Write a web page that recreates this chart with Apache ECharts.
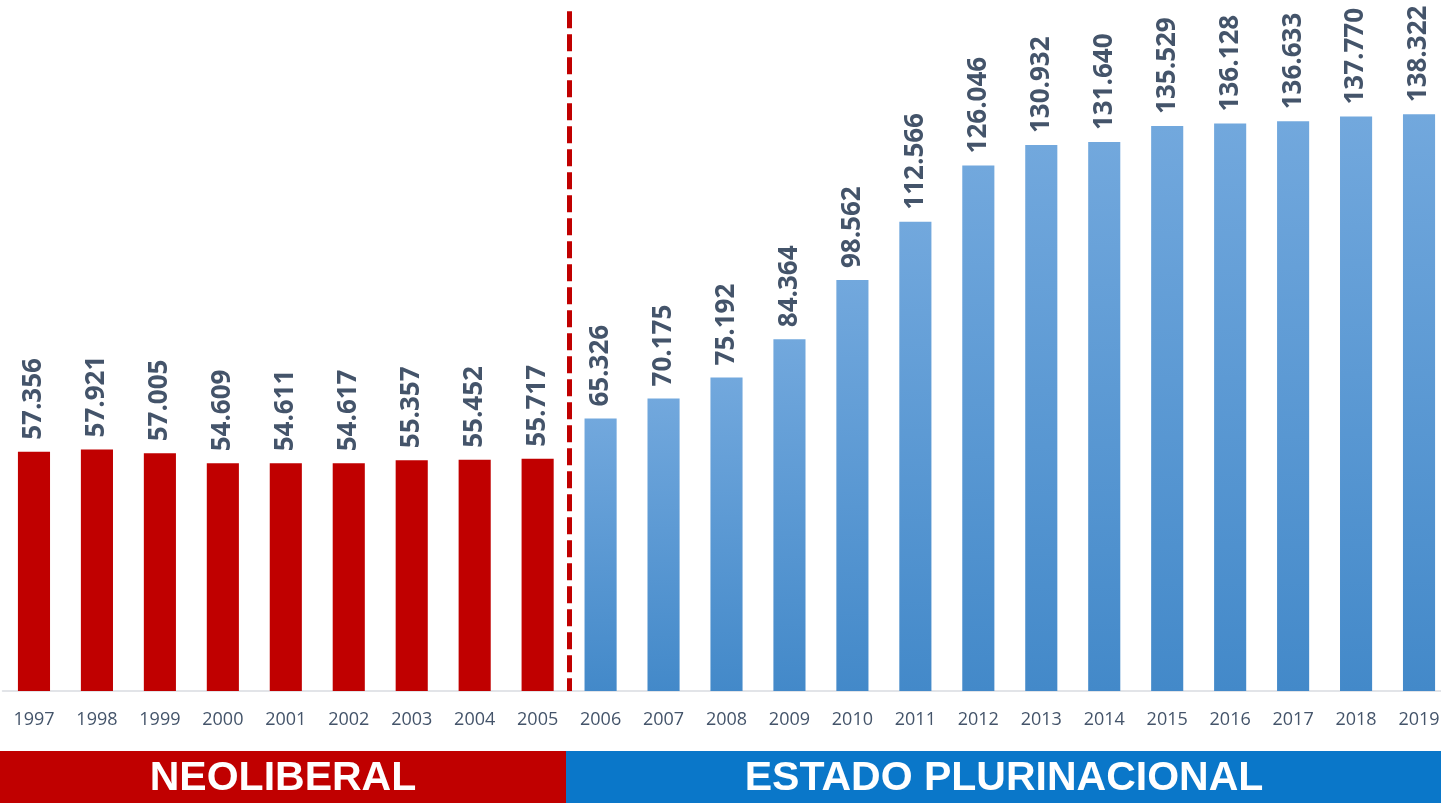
<!DOCTYPE html>
<html>
<head>
<meta charset="utf-8">
<script src="https://cdn.jsdelivr.net/npm/echarts@6/dist/echarts.min.js"></script>
<style>
html, body { margin: 0; padding: 0; background: #fff; overflow: hidden; }
#main { width: 1451px; height: 803px; }
</style>
</head>
<body>
<div id="main"></div>
<script>
// datos
var years = ["1997","1998","1999","2000","2001","2002","2003","2004","2005","2006","2007","2008","2009","2010","2011","2012","2013","2014","2015","2016","2017","2018","2019"];
var neoliberal = [57.356, 57.921, 57.005, 54.609, 54.611, 54.617, 55.357, 55.452, 55.717];
var plurinacional = [65.326, 70.175, 75.192, 84.364, 98.562, 112.566, 126.046, 130.932, 131.640, 135.529, 136.128, 136.633, 137.770, 138.322];

var redData = [], blueData = [];
for (var i = 0; i < years.length; i++) {
	if (i < neoliberal.length) {
		redData.push(neoliberal[i]);
		blueData.push(null);
	} else {
		redData.push(null);
		blueData.push(plurinacional[i - neoliberal.length]);
	}
}
// linea divisoria entre 2005 y 2006
var corte = neoliberal.length - 0.5;

var myChart = echarts.init(document.getElementById('main'));

var labelOpt = {
	show: true,
	position: 'top',
	rotate: 90,
	align: 'left',
	verticalAlign: 'middle',
	distance: 12,
	color: '#44546a',
	fontFamily: 'Open Sans',
	fontWeight: 'bold',
	fontSize: 26,
	formatter: function(p) { return p.value.toFixed(3); }
};

var option = {
	animation: false,
	grid: {
		left: 2.5,
		right: 0.5,
		top: 3,
		bottom: 112
	},
	xAxis: [{
		type: 'category',
		data: years,
		axisTick: { show: false },
		axisLine: { lineStyle: { color: '#d9dce1', width: 1.5 } },
		axisLabel: {
			color: '#44546a',
			fontFamily: 'Open Sans',
			fontSize: 18,
			margin: 20
		}
	}, {
		type: 'value',
		min: -0.5,
		max: years.length - 0.5,
		show: false,
		splitLine: { show: false }
	}],
	yAxis: {
		type: 'value',
		min: 0,
		max: 165,
		show: false,
		splitLine: { show: false }
	},
	series: [
		{
			name: 'Neoliberal',
			type: 'bar',
			data: redData,
			barWidth: '51%',
			barGap: '-100%',
			itemStyle: { color: '#c00000' },
			label: labelOpt
		},
		{
			name: 'Estado Plurinacional',
			type: 'bar',
			data: blueData,
			barWidth: '51%',
			itemStyle: {
				color: new echarts.graphic.LinearGradient(0, 0, 0, 1, [
					{ offset: 0, color: '#72a8dd' },
					{ offset: 1, color: '#4389c9' }
				])
			},
			label: labelOpt
		},
		{
			name: 'corte',
			type: 'line',
			xAxisIndex: 1,
			data: [],
			markLine: {
				silent: true,
				symbol: 'none',
				label: { show: false },
				lineStyle: { color: '#c00000', width: 5, type: [17, 6] },
				data: [[{ coord: [corte, 163] }, { coord: [corte, 0] }]]
			}
		}
	],
	graphic: [
		{ type: 'rect', left: 0, top: 751, shape: { width: 566, height: 52 }, style: { fill: '#c00000' } },
		{ type: 'rect', left: 566, top: 751, shape: { width: 885, height: 52 }, style: { fill: '#0a77c9' } },
		{ type: 'text', x: 283, y: 779, style: { text: 'NEOLIBERAL', fill: '#fff', font: 'bold 41px "Liberation Sans"', textAlign: 'center', textVerticalAlign: 'middle' } },
		{ type: 'text', x: 1004, y: 779, style: { text: 'ESTADO PLURINACIONAL', fill: '#fff', font: 'bold 41px "Liberation Sans"', textAlign: 'center', textVerticalAlign: 'middle' } }
	]
};

myChart.setOption(option);
</script>
</body>
</html>
